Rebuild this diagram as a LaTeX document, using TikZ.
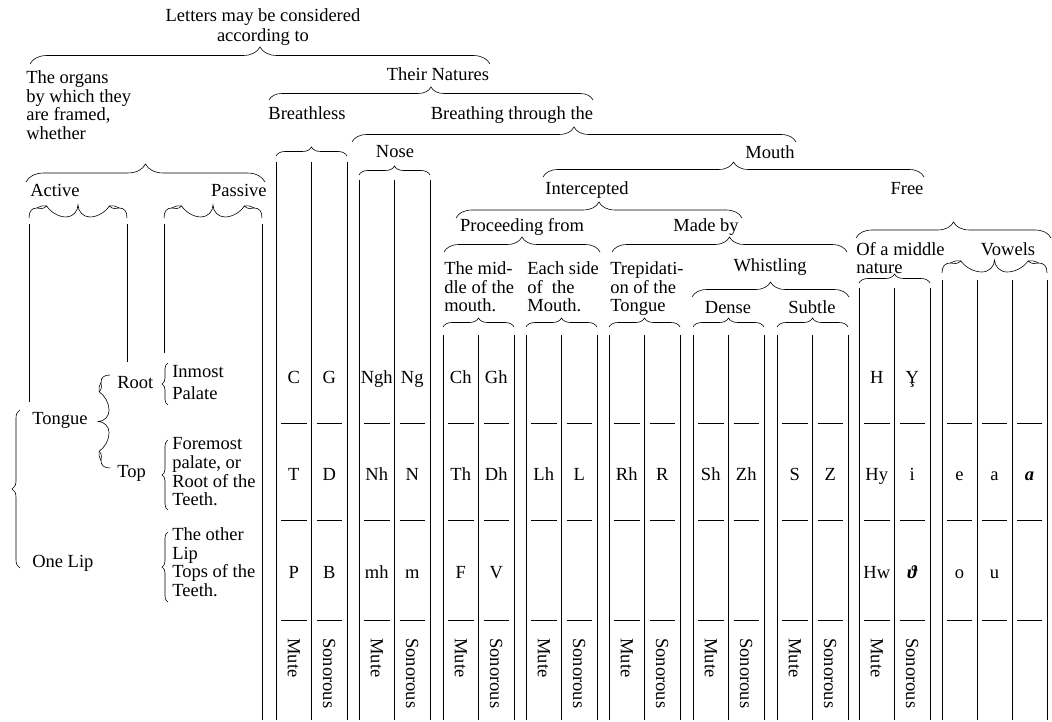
\documentclass[tikz,border=0pt]{standalone}
\usepackage{fontspec}
\setmainfont{Liberation Serif}
\usetikzlibrary{positioning,decorations.pathreplacing}

\tikzset{
	brc/.style={decorate,decoration={brace,amplitude=#1}},
	lbl/.style={inner sep=0pt,font=\fontsize{18.5}{18.6}\selectfont},
	txt/.style={lbl,align=left,anchor=north west},
	rot/.style={lbl,rotate=-90,anchor=west},
}

%brace with little ears, drawn in a 100 x 13 box
\newcommand{\earbrace}[1]{%
	\begin{scope}[#1]
	\draw (0,0) .. controls (0,-7) and (3,-10) .. (8,-10)
		.. controls (11,-10) and (14,-8) .. (18,-12)
		.. controls (22,-6) and (30,-1) .. (38,-1)
		.. controls (45,-1) and (50,-7) .. (50,-13)
		.. controls (50,-7) and (55,-1) .. (62,-1)
		.. controls (70,-1) and (78,-6) .. (82,-12)
		.. controls (86,-8) and (89,-10) .. (92,-10)
		.. controls (97,-10) and (100,-7) .. (100,0);
	\draw (8,-10) .. controls (12,-12) and (15,-13) .. (18,-12);
	\draw (82,-12) .. controls (85,-13) and (88,-12) .. (92,-10);
	\end{scope}}

\begin{document}
\begin{tikzpicture}[x=1pt,y=-1pt,line width=.6pt]
	\useasboundingbox (0,0) rectangle (1052,722);
	
	%heading and the natures
	\node[lbl,align=center,anchor=north] (letters) at (263,8.4) {Letters may be considered\\[1.5pt]according to};
	\draw[brc=17pt] (30,64) -- (490,64);
	\node[txt] (organs) at (26,70.4) {The organs\\by which they\\are framed,\\whether};
	\node[lbl,anchor=base] (natures) at (438,81) {Their Natures};
	\draw[brc=13pt] (269,100) -- (593,100);
	\node[lbl,anchor=base] (breathless) at (307,120) {Breathless};
	\node[lbl,anchor=base] (breathing) at (512,120) {Breathing through the};
	\draw[brc=15pt] (352,142) -- (796,142);
	\node[lbl,anchor=base] (nose) at (395,158) {Nose};
	\node[lbl,anchor=base] (mouth) at (770,159) {Mouth};
	\draw[brc=15pt] (543,177) -- (924,177);
	\node[lbl,anchor=base] (intercepted) at (587,195) {Intercepted};
	\node[lbl,anchor=base] (free) at (907,195) {Free};
	\draw[brc=16pt] (456,218) -- (742,218);
	\node[lbl,anchor=base] (proceeding) at (522,232) {Proceeding from};
	\node[lbl,anchor=base] (madeby) at (706,232) {Made by};
	\draw[brc=15pt] (444,252) -- (600,252);
	\draw[brc=15pt] (612,252) -- (847,252);
	\node[txt] (middle) at (444,261.4) {The mid-\\dle of the\\mouth.};
	\node[txt] (eachside) at (527,261.4) {Each side\\of~ the\\Mouth.};
	\node[txt] (trepid) at (610,261.4) {Trepidati-\\on of the\\Tongue};
	\node[lbl,anchor=base] (whistling) at (770,271) {Whistling};
	\draw[brc=15pt] (692,297) -- (849,297);
	\node[lbl,anchor=base] (dense) at (728,313) {Dense};
	\node[lbl,anchor=base] (subtle) at (812,313) {Subtle};
	\draw[brc=16pt] (856,238) -- (1051,238);
	\node[txt] (midnature) at (856,242.4) {Of a middle\\[-1pt]nature};
	\node[lbl,anchor=base] (vowels) at (1008,255) {Vowels};
	
	%the organs
	\draw[brc=18pt] (26,182) -- (265,182);
	\node[lbl,anchor=base west] (active) at (30,197) {Active};
	\node[lbl,anchor=base east] (passive) at (267,197) {Passive};
	\earbrace{shift={(29,218)},xscale=.98}
	\earbrace{shift={(164,218)},xscale=.98}
	\draw (29,224) -- (29,402);
	\draw (127,224) -- (127,362);
	\draw (164,224) -- (164,353);
	\draw (262,224) -- (262,720);
	
	\draw[brc=8pt] (20,568) -- (20,410);
	\node[lbl,anchor=base west] (tongue) at (32,424) {Tongue};
	\node[lbl,anchor=base west] (onelip) at (32,567) {One Lip};
	\earbrace{shift={(110,468)},rotate=90,xscale=.93,yscale=.9}
	\node[lbl,anchor=base west] (root) at (117,388) {Root};
	\node[lbl,anchor=base west] (toplbl) at (117,477) {Top};
	\draw[brc=6pt] (168,405) -- (168,363);
	\draw[brc=6pt] (168,510) -- (168,440);
	\draw[brc=6pt] (168,602) -- (168,532);
	\node[txt] (inmost) at (172,365.4) {Inmost\\[3.5pt]Palate};
	\node[txt] (foremost) at (172,437.4) {Foremost\\palate, or\\Root of the\\Teeth.};
	\node[txt] (otherlip) at (172,527.4) {The other\\Lip\\Tops of the\\Teeth.};
	
	%columns of the table: left edge / top of the lines
	\foreach \gx/\gy [count=\i] in {276/162,359/180,443/335,526/335,609/335,693/335,777/335,859/288}{
		\foreach \dx in {0,35.5,71}
			\draw (\gx+\dx,\gy) -- (\gx+\dx,720);
		\foreach \ry in {423,520,620}{
			\draw (\gx+5,\ry) -- (\gx+31,\ry);
			\draw (\gx+40.5,\ry) -- (\gx+66,\ry);
		}
		\node[rot] (mute\i) at (\gx+17.75,638) {Mute};
		\node[rot] (son\i) at (\gx+53.25,638) {Sonorous};
	}
	\foreach \gx/\by in {276/156,359/175,443/327,526/327,609/327,693/327,777/327,859/283}
		\draw[brc=9pt] (\gx,\by) -- (\gx+71,\by);
	
	%vowels
	\earbrace{shift={(942,273)},xscale=1.05}
	\foreach \vx in {942,977,1012,1047}
		\draw (\vx,280) -- (\vx,720);
	\foreach \vx in {942,977,1012}
		\foreach \ry in {423,520,620}
			\draw (\vx+5,\ry) -- (\vx+30,\ry);
	
	%the letters, row by row
	\foreach \cx/\t [count=\k] in {293.75/C,329.25/G,376.75/Ngh,412.25/Ng,460.75/Ch,496.25/Gh,876.75/H,912.25/{Y\kern-.527em¸\kern.194em}}
		\node[lbl,anchor=base] (ra\k) at (\cx,383) {\t};
	\foreach \cx/\t [count=\k] in {293.75/T,329.25/D,376.75/Nh,412.25/N,460.75/Th,496.25/Dh,543.75/Lh,579.25/L,626.75/Rh,662.25/R,710.75/Sh,746.25/Zh,794.75/S,830.25/Z,876.75/Hy,912.25/i,959.5/e,994.5/a,1029.5/{\bfseries\itshape a}}
		\node[lbl,anchor=base] (rb\k) at (\cx,480) {\t};
	\foreach \cx/\t [count=\k] in {293.75/P,329.25/B,376.75/mh,412.25/m,460.75/F,496.25/V,876.75/Hw,912.25/{\bfseries\itshape ϑ},959.5/o,994.5/u}
		\node[lbl,anchor=base] (rc\k) at (\cx,578) {\t};
\end{tikzpicture}
\end{document}
